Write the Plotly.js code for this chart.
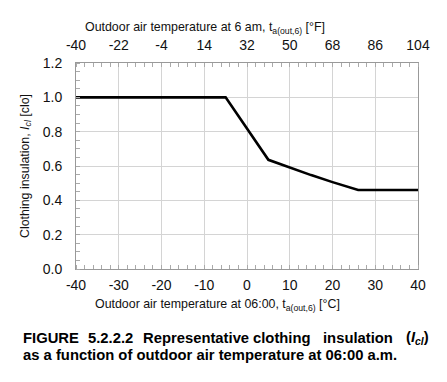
<!DOCTYPE html>
<html><head><meta charset="utf-8">
<script src="https://cdn.plot.ly/plotly-3.0.1.min.js"></script>
<style>html,body{margin:0;padding:0;background:#fff}#chart{width:447px;height:382px}</style>
</head><body><div id="chart"></div>
<script>
// Outdoor air temperature at 06:00 [°C]
var tempC = [-40, -5, 5, 10, 15, 20, 26, 40];
// Clothing insulation [clo]
var clo = [1.0, 1.0, 0.636, 0.59, 0.547, 0.506, 0.46, 0.46];
// Top axis (°F) tick labels
var fTicks = [-40, -22, -4, 14, 32, 50, 68, 86, 104];
var cTicks = [-40, -30, -20, -10, 0, 10, 20, 30, 40];
var yTicks = [0.0, 0.2, 0.4, 0.6, 0.8, 1.0, 1.2];
// Texts
var topTitle = 'Outdoor air temperature at 6 am, t<sub>a(out,6)</sub> [°F]';
var bottomTitle = 'Outdoor air temperature at 06:00, t<sub>a(out,6)</sub> [°C]';
var yTitle = 'Clothing insulation, <i>I</i><sub><i>cl</i></sub> [clo]';
var captionLine1 = ['FIGURE', '5.2.2.2', 'Representative', 'clothing', 'insulation', '(<i>I<sub>cl</sub></i>)'];
var captionLine2 = 'as a function of outdoor air temperature at 06:00 a.m.';

var font = 'Liberation Sans, Arial, sans-serif';
var traces = [
  {x: tempC, y: clo, type: 'scatter', mode: 'lines', line: {color: '#000', width: 2.6}, hoverinfo: 'skip', xaxis: 'x', yaxis: 'y'},
  {x: [fTicks[0], fTicks[fTicks.length-1]], y: [null, null], type: 'scatter', mode: 'lines', showlegend: false, hoverinfo: 'skip', xaxis: 'x2', yaxis: 'y'}
];

// layout geometry (pixels -> paper) for free-standing texts
var L = 76, T = 63, PW = 342, PH = 206;
function px2x(p){ return (p - L) / PW; }
function py2y(p){ return (T + PH - p) / PH; }
var wordPx = [21, 85.5, 141, 250.5, 320.5, 404];
var capSize = 14.8;
var annotations = captionLine1.map(function(w, i){
  return {xref: 'paper', yref: 'paper', x: px2x(wordPx[i]), y: py2y(338), xanchor: 'left', yanchor: 'middle', showarrow: false,
    text: '<b>' + w + '</b>', font: {size: capSize, color: '#000', family: font}};
});
annotations.push({xref: 'paper', yref: 'paper', x: px2x(21), y: py2y(355), xanchor: 'left', yanchor: 'middle', showarrow: false,
  text: '<b>' + captionLine2 + '</b>', font: {size: capSize, color: '#000', family: font}});
annotations.push({xref: 'paper', yref: 'paper', x: px2x(83), y: py2y(28.5), xanchor: 'left', yanchor: 'middle', showarrow: false,
  text: topTitle, font: {size: 12.4, color: '#111', family: font}});
annotations.push({xref: 'paper', yref: 'paper', x: px2x(93), y: py2y(305), xanchor: 'left', yanchor: 'middle', showarrow: false,
  text: bottomTitle, font: {size: 12.4, color: '#111', family: font}});

var layout = {
  width: 447, height: 382, showlegend: false,
  paper_bgcolor: '#fff', plot_bgcolor: '#fff',
  margin: {l: L, r: 447 - L - PW, t: T, b: 382 - T - PH},
  font: {family: font, color: '#111'},
  xaxis: {range: [-40, 40], tickvals: cTicks, ticktext: cTicks.map(String), ticks: '', showgrid: true, gridcolor: '#d4d4d4', gridwidth: 1,
    showline: true, linecolor: '#999', linewidth: 1, zeroline: false, tickfont: {size: 14}, ticklabelstandoff: 3,
    minor: {dtick: 2, tick0: -40, ticks: 'inside', ticklen: 4, tickcolor: '#aaa', showgrid: false}},
  xaxis2: {overlaying: 'x', side: 'top', range: [-40, 104], tickvals: fTicks, ticktext: fTicks.map(String), ticks: '', showgrid: false,
    showline: true, linecolor: '#999', linewidth: 1, zeroline: false, tickfont: {size: 14}, ticklabelstandoff: 6,
    minor: {dtick: 3.6, tick0: -40, ticks: 'inside', ticklen: 4, tickcolor: '#aaa', showgrid: false}},
  yaxis: {range: [0, 1.2], tickvals: yTicks, ticktext: yTicks.map(function(v){return v.toFixed(1);}), ticks: '', showgrid: true, gridcolor: '#d4d4d4',
    showline: true, mirror: true, linecolor: '#999', linewidth: 1, zeroline: false, tickfont: {size: 14}, ticklabelstandoff: 10,
    minor: {dtick: 0.05, ticks: 'inside', ticklen: 4, tickcolor: '#aaa', showgrid: false},
    title: {text: yTitle, font: {size: 12.4}, standoff: 10}},
  annotations: annotations
};
Plotly.newPlot('chart', traces, layout, {displayModeBar: false, staticPlot: true});
</script></body></html>
